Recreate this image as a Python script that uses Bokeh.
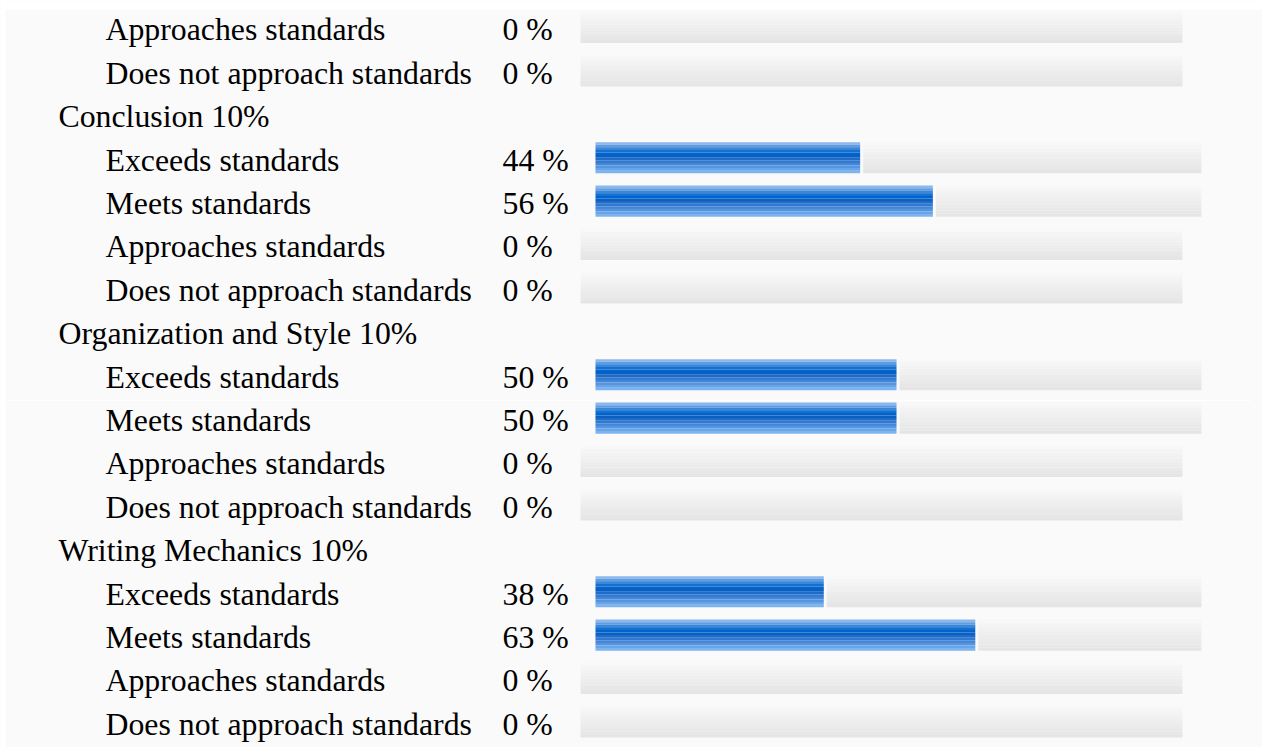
from bokeh.plotting import figure
from bokeh.models import Range1d, ColumnDataSource
from bokeh.core.properties import value
from bokeh.embed import file_html
from bokeh.resources import INLINE

# ---------------- data ----------------
levels = ["Exceeds standards", "Meets standards", "Approaches standards", "Does not approach standards"]
criteria = ["Conclusion 10%", "Organization and Style 10%", "Writing Mechanics 10%"]
# tail of the previous criterion (only its last two levels are visible)
prev_levels = ["Approaches standards", "Does not approach standards"]
prev_values = [0, 0]
conclusion_values = [44, 56, 0, 0]
organization_values = [50, 50, 0, 0]
mechanics_values = [38, 63, 0, 0]
criteria_values = [conclusion_values, organization_values, mechanics_values]

# ---------------- layout ----------------
ROW_PX = 43.4           # row pitch in pixels
FIRST_BASE = 40         # baseline of first row (px)
W, H = 1262, 747
FONT = value("Liberation Serif")
FS = value("31.8px")

rows = []  # (kind, label, value)
for lv, v in zip(prev_levels, prev_values):
    rows.append(("level", lv, v))
for crit, vals in zip(criteria, criteria_values):
    rows.append(("header", crit, None))
    for lv, v in zip(levels, vals):
        rows.append(("level", lv, v))

def py(px):
    return (px - FIRST_BASE) / ROW_PX

y0 = py(0)
y1 = py(H)

p = figure(width=W, height=H, output_backend="svg", toolbar_location=None,
           x_range=Range1d(0, W), y_range=Range1d(y1, y0),
           min_border=0, outline_line_color=None,
           background_fill_color="#fafafa", border_fill_color="#fafafa")
p.axis.visible = False
p.grid.visible = False

# white page margin strips (top and left) around the panel
p.quad(left=[0, 0], right=[W, 5], top=[py(0), py(0)], bottom=[py(9), py(H)],
       fill_color="#ffffff", line_color=None)

bar_h = 31 / ROW_PX
bar_off = -13 / ROW_PX
text_off = -10.7 / ROW_PX   # em-box middle relative to baseline

blue_bands = ["#8ab8ec", "#5f9de0", "#3a86d8", "#1470d0", "#0064d0", "#0a5fc0",
              "#1f6cc8", "#3079d0", "#4286d8", "#5594e0", "#68a4e8", "#7cb4f0"]
gray_bands = ["#f8f8f8", "#f5f5f5", "#f3f3f3", "#f1f1f1", "#efefef", "#ededed",
              "#ebebeb", "#e9e9e9", "#e7e7e7", "#e5e5e5"]

bq = dict(left=[], right=[], top=[], bottom=[], color=[])
gq = dict(left=[], right=[], top=[], bottom=[], color=[])
hdr = dict(x=[], y=[], t=[])
lab = dict(x=[], y=[], t=[])
pct = dict(x=[], y=[], t=[])

for i, (kind, label, v) in enumerate(rows):
    ty = i + text_off
    if kind == "header":
        hdr["x"].append(58); hdr["y"].append(ty); hdr["t"].append(label)
        continue
    lab["x"].append(105); lab["y"].append(ty); lab["t"].append(label)
    pct["x"].append(502); pct["y"].append(ty); pct["t"].append(f"{v} %")
    if v >= 10:
        start, end = 595, 1201
    else:
        start, end = 580, 1182
    split = start + (end - start) * v / 100.0
    c = i + bar_off
    top = c - bar_h / 2
    if v > 0:
        n = len(blue_bands)
        for j, col in enumerate(blue_bands):
            bq["left"].append(start); bq["right"].append(split - 2)
            bq["top"].append(top + j * bar_h / n)
            bq["bottom"].append(top + (j + 1) * bar_h / n + 0.002)
            bq["color"].append(col)
        gstart = split + 1
    else:
        gstart = start
    n = len(gray_bands)
    for j, col in enumerate(gray_bands):
        gq["left"].append(gstart); gq["right"].append(end)
        gq["top"].append(top + j * bar_h / n)
        gq["bottom"].append(top + (j + 1) * bar_h / n + 0.002)
        gq["color"].append(col)

p.quad(left="left", right="right", top="top", bottom="bottom", fill_color="color",
       line_color=None, source=ColumnDataSource(gq))
p.quad(left="left", right="right", top="top", bottom="bottom", fill_color="color",
       line_color=None, source=ColumnDataSource(bq))

for d in (hdr, lab, pct):
    p.text(x="x", y="y", text="t", source=ColumnDataSource(d), text_font=FONT,
           text_font_size=FS, text_color="#000000", text_baseline="middle",
           text_align="left")

# faint seam line in the page background
p.line(x=[5, 1250], y=[py(400), py(400)], line_color="#ffffff", line_width=1)

open("out.html", "w").write(file_html(p, INLINE))
